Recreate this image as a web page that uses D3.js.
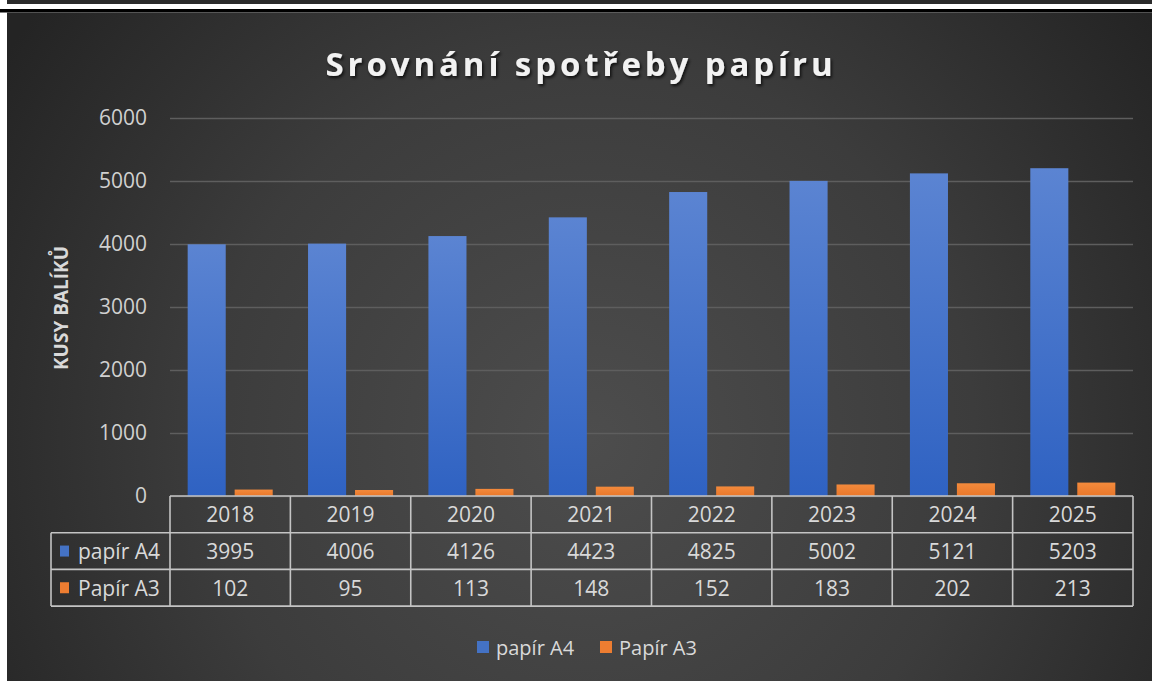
<!DOCTYPE html>
<html>
<head>
<meta charset="utf-8">
<script src="https://cdn.jsdelivr.net/npm/d3@7"></script>
<style>
  body { margin: 0; background: #fff; }
  svg { display: block; }
  text { font-family: "Open Sans", sans-serif; }
</style>
</head>
<body>
<div id="vis"></div>
<script>
// data
let years = ['2018', '2019', '2020', '2021', '2022', '2023', '2024', '2025'];
let seriesNames = ['papír A4', 'Papír A3'];
let paperA4 = [3995, 4006, 4126, 4423, 4825, 5002, 5121, 5203];
let paperA3 = [102, 95, 113, 148, 152, 183, 202, 213];
let yTicks = [0, 1000, 2000, 3000, 4000, 5000, 6000];

let W = 1152, H = 681;
let plot = { left: 170, right: 1133, top: 118, bottom: 496 };
let rowH = 36.7;
let colors = ['#4472c4', '#ed7d31'];

let svg = d3.select('#vis')
  .append('svg')
  .attr('width', W)
  .attr('height', H);

let defs = svg.append('defs');

// chart background - radial glow in the middle
let bg = defs.append('radialGradient')
  .attr('id', 'bg')
  .attr('gradientUnits', 'userSpaceOnUse')
  .attr('cx', 590).attr('cy', 440).attr('r', 700);
bg.append('stop').attr('offset', '0%').attr('stop-color', '#4d4d4d');
bg.append('stop').attr('offset', '55%').attr('stop-color', '#3c3c3c');
bg.append('stop').attr('offset', '100%').attr('stop-color', '#242424');

// bar gradients
let blueGrad = defs.append('linearGradient')
  .attr('id', 'blueGrad').attr('x1', 0).attr('y1', 0).attr('x2', 0).attr('y2', 1);
blueGrad.append('stop').attr('offset', '0%').attr('stop-color', '#5b84d2');
blueGrad.append('stop').attr('offset', '100%').attr('stop-color', '#2f62c2');

let orangeGrad = defs.append('linearGradient')
  .attr('id', 'orangeGrad').attr('x1', 0).attr('y1', 0).attr('x2', 0).attr('y2', 1);
orangeGrad.append('stop').attr('offset', '0%').attr('stop-color', '#f38a3c');
orangeGrad.append('stop').attr('offset', '100%').attr('stop-color', '#e9772a');

let shadow = defs.append('filter').attr('id', 'shadow')
  .attr('x', '-10%').attr('y', '-30%').attr('width', '120%').attr('height', '160%');
shadow.append('feDropShadow')
  .attr('dx', 1.5).attr('dy', 2).attr('stdDeviation', 1.5)
  .attr('flood-color', '#000').attr('flood-opacity', 0.75);

// frame strips at the top / left
svg.append('rect').attr('x', 7).attr('y', 0).attr('width', W - 7).attr('height', 4).attr('fill', '#2b2b2b');
svg.append('rect').attr('x', 0).attr('y', 9).attr('width', W).attr('height', 3.5).attr('fill', '#000');
svg.append('rect').attr('x', 7).attr('y', 12.5).attr('width', W - 7).attr('height', H - 12.5).attr('fill', 'url(#bg)');

// title
svg.append('text')
  .attr('x', 581).attr('y', 76)
  .attr('text-anchor', 'middle')
  .attr('font-size', 33)
  .attr('font-weight', 700)
  .attr('letter-spacing', 3.9)
  .attr('fill', '#f2f2f2')
  .attr('filter', 'url(#shadow)')
  .text('Srovnání spotřeby papíru');

// scales
let x = d3.scaleBand().domain(years).range([plot.left, plot.right]);
let x1 = d3.scaleBand().domain(seriesNames).range([0, x.bandwidth()]).paddingInner(0.19).paddingOuter(0.376);
let y = d3.scaleLinear().domain([0, 6000]).range([plot.bottom, plot.top]);

// gridlines + tick labels
let yAxis = svg.append('g')
  .attr('transform', `translate(${plot.left},0)`)
  .call(d3.axisLeft(y).tickValues(yTicks).tickFormat(d3.format('d')).tickSize(-(plot.right - plot.left)).tickPadding(23));
yAxis.select('.domain').remove();
yAxis.attr('font-size', null).attr('font-family', null);
yAxis.selectAll('.tick line').attr('stroke', '#5e5e5e').attr('stroke-width', 1.3);
yAxis.selectAll('.tick text')
  .attr('fill', '#d0d0d0')
  .style('font-size', '21px');

// axis title
svg.append('text')
  .attr('transform', 'translate(68,308) rotate(-90)')
  .attr('text-anchor', 'middle')
  .style('font-size', '19px')
  .attr('font-weight', 700)
  .attr('fill', '#d9d9d9')
  .text('KUSY BALÍKŮ');

// bars
let series = [paperA4, paperA3];
let fills = ['url(#blueGrad)', 'url(#orangeGrad)'];
series.forEach((vals, si) => {
  svg.append('g').selectAll('rect')
    .data(vals)
    .join('rect')
    .attr('x', (d, i) => x(years[i]) + x1(seriesNames[si]))
    .attr('y', d => y(d))
    .attr('width', x1.bandwidth())
    .attr('height', d => y(0) - y(d))
    .attr('fill', fills[si]);
});

// data table under the plot
let table = svg.append('g');
let gridColor = '#c4c4c4';
let labelLeft = 51;
let rows = [plot.bottom, plot.bottom + rowH, plot.bottom + 2 * rowH, plot.bottom + 3 * rowH];

// horizontal lines
table.append('line').attr('x1', plot.left).attr('x2', plot.right).attr('y1', rows[0]).attr('y2', rows[0]);
[rows[1], rows[2], rows[3]].forEach(r => {
  table.append('line').attr('x1', labelLeft).attr('x2', plot.right).attr('y1', r).attr('y2', r);
});
// vertical lines
let colEdges = years.map(yr => x(yr)).concat([plot.right]);
colEdges.forEach(cx => {
  table.append('line').attr('x1', cx).attr('x2', cx).attr('y1', rows[0]).attr('y2', rows[3]);
});
table.append('line').attr('x1', labelLeft).attr('x2', labelLeft).attr('y1', rows[1]).attr('y2', rows[3]);
table.selectAll('line').attr('stroke', gridColor).attr('stroke-width', 1.6);

// year headers
table.append('g').selectAll('text')
  .data(years)
  .join('text')
  .attr('x', d => x(d) + x.bandwidth() / 2)
  .attr('y', rows[0] + rowH / 2)
  .text(d => d);

// values
series.forEach((vals, si) => {
  table.append('g').selectAll('text')
    .data(vals)
    .join('text')
    .attr('x', (d, i) => x(years[i]) + x.bandwidth() / 2)
    .attr('y', rows[si + 1] + rowH / 2)
    .text(d => d);

  table.append('rect')
    .attr('x', 60).attr('y', rows[si + 1] + rowH / 2 - 5.5)
    .attr('width', 9).attr('height', 11)
    .attr('fill', colors[si]);
  table.append('text')
    .attr('x', 78).attr('y', rows[si + 1] + rowH / 2)
    .attr('text-anchor', 'start')
    .text(seriesNames[si]);
});

table.selectAll('text')
  .filter(function() { return !d3.select(this).attr('text-anchor'); })
  .attr('text-anchor', 'middle');
table.selectAll('text')
  .attr('dominant-baseline', 'central')
  .style('font-size', '21px')
  .attr('fill', '#d9d9d9');

// legend at the bottom
let legend = svg.append('g');
let legendItems = [{ name: seriesNames[0], x: 477 }, { name: seriesNames[1], x: 600 }];
legendItems.forEach((it, i) => {
  legend.append('rect')
    .attr('x', it.x).attr('y', 641)
    .attr('width', 12).attr('height', 12)
    .attr('fill', colors[i]);
  legend.append('text')
    .attr('x', it.x + 19).attr('y', 647)
    .attr('dominant-baseline', 'central')
    .style('font-size', '20px')
    .attr('fill', '#d9d9d9')
    .text(it.name);
});
</script>
</body>
</html>
